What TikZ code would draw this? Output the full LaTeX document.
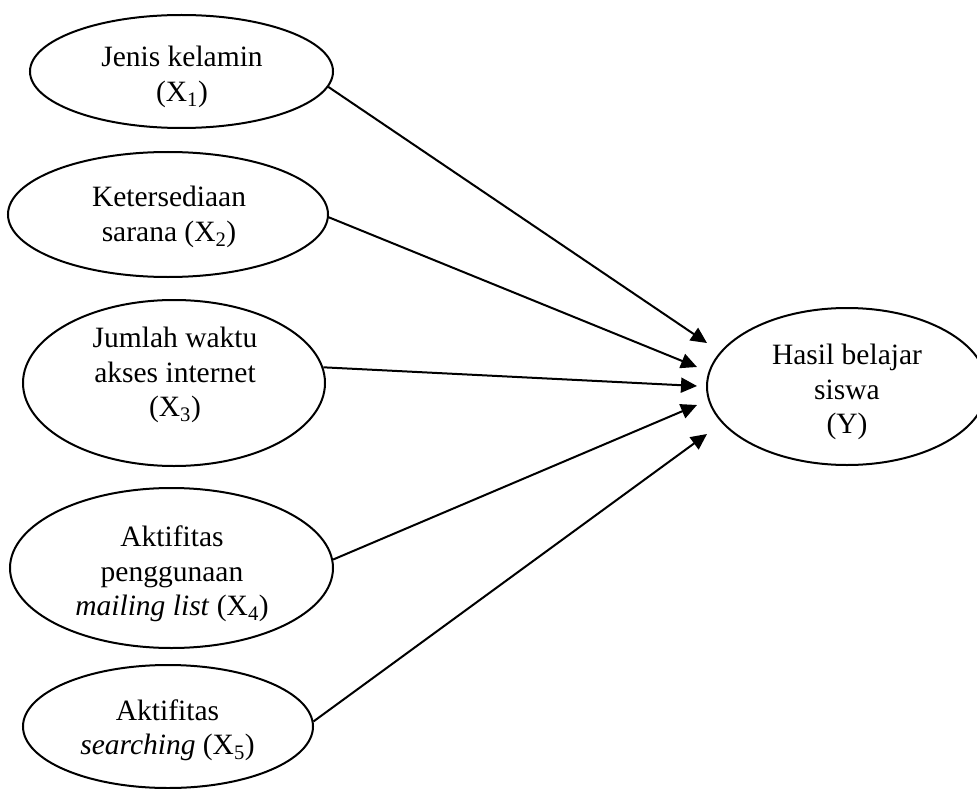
\documentclass[tikz,border=0pt]{standalone}
\usepackage{fontspec}
\setmainfont{Liberation Serif}
\usetikzlibrary{shapes.geometric,arrows.meta}
\begin{document}
\begin{tikzpicture}[x=1pt,y=-1pt,
  ell/.style={draw, ellipse, line width=2pt, inner sep=0pt},
  lbl/.style={align=center, inner sep=0pt, font=\fontsize{29.5}{34.5}\selectfont},
  link/.style={line width=2pt, -{Triangle[length=16pt,width=15pt]}}]
\useasboundingbox (0,0) rectangle (977,789);
\clip (0,0) rectangle (977,789);
% ellipses
\node[ell, minimum width=303pt, minimum height=113pt] (e1) at (181.5,71.5) {};
\node[ell, minimum width=320pt, minimum height=125pt] (e2) at (168,214.5) {};
\node[ell, minimum width=302pt, minimum height=166pt] (e3) at (174,383) {};
\node[ell, minimum width=323pt, minimum height=160pt] (e4) at (171.5,568) {};
\node[ell, minimum width=290pt, minimum height=123pt] (e5) at (168,726.5) {};
\node[ell, minimum width=280pt, minimum height=157pt] (y) at (847,386.5) {};
% texts
\node[lbl] (t1) at (182,77) {Jenis kelamin\\(X\textsubscript{1})};
\node[lbl] (t2) at (169,217) {Ketersediaan\\sarana (X\textsubscript{2})};
\node[lbl] (t3) at (175,375) {Jumlah waktu\\akses internet\\(X\textsubscript{3})};
\node[lbl] (t4) at (172,574) {Aktifitas\\penggunaan\\\textit{mailing list} (X\textsubscript{4})};
\node[lbl] (t5) at (167.5,730) {Aktifitas\\\textit{searching} (X\textsubscript{5})};
\node[lbl] (ty) at (847,392) {Hasil belajar\\siswa\\(Y)};
% arrow tips
\coordinate (p1) at (707,343);
\coordinate (p2) at (697,367);
\coordinate (p3) at (697,386);
\coordinate (p4) at (697,405);
\coordinate (p5) at (707,434);
% connectors
\draw[link] (e1.-6) -- (p1);
\draw[link] (e2.-1) -- (p2);
\draw[link] (e3.6) -- (p3);
\draw[link] (e4.3) -- (p4);
\draw[link] (e5.2) -- (p5);
\end{tikzpicture}
\end{document}
